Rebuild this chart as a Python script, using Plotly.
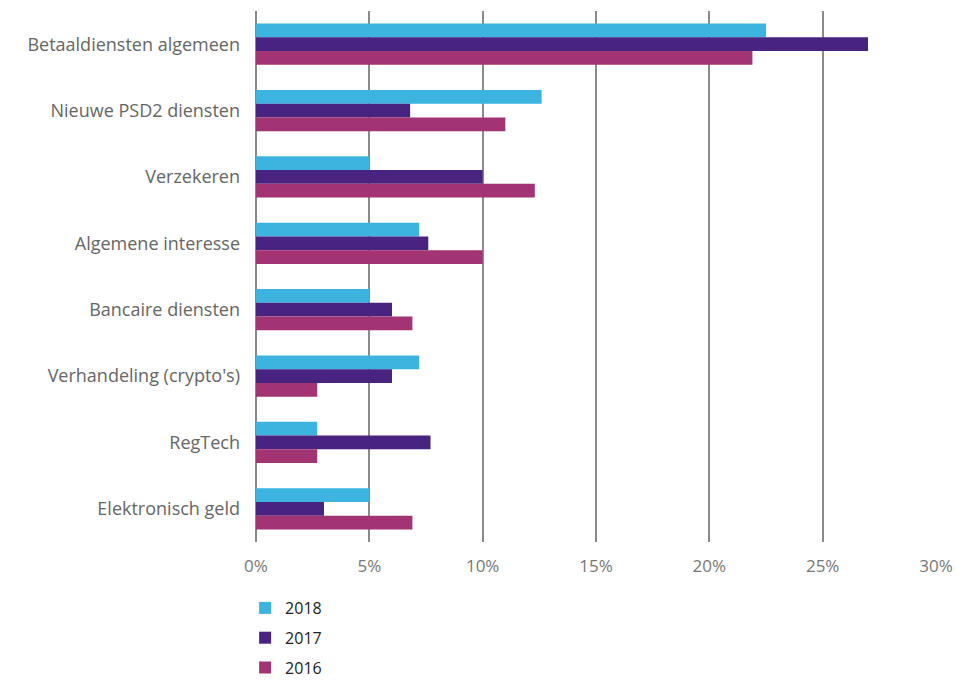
import plotly.graph_objects as go

categories = ["Betaaldiensten algemeen", "Nieuwe PSD2 diensten", "Verzekeren",
              "Algemene interesse", "Bancaire diensten", "Verhandeling (crypto's)",
              "RegTech", "Elektronisch geld"]
v2018 = [22.5, 12.6, 5.0, 7.2, 5.0, 7.2, 2.7, 5.0]
v2017 = [27.0, 6.8, 10.0, 7.6, 6.0, 6.0, 7.7, 3.0]
v2016 = [21.9, 11.0, 12.3, 10.0, 6.9, 2.7, 2.7, 6.9]
series_names = ["2018", "2017", "2016"]
colors = ["#3DB3E0", "#48237F", "#A33474"]
tick_vals = [0, 5, 10, 15, 20, 25, 30]
tick_text = ["0%", "5%", "10%", "15%", "20%", "25%", "30%"]

fig = go.Figure()
for name, vals, col in zip(series_names, [v2018, v2017, v2016], colors):
    fig.add_trace(go.Bar(
        y=categories, x=vals, name=name, orientation="h",
        marker=dict(color=col, line=dict(width=0)),
        legendgroup=name,
    ))

fig.update_layout(
    width=957, height=685,
    margin=dict(l=256, r=21, t=11, b=143, autoexpand=False),
    paper_bgcolor="white", plot_bgcolor="white",
    barmode="group", bargap=0.38, bargroupgap=0,
    font=dict(family="Open Sans", size=17, color="#666666"),
    xaxis=dict(range=[0, 30], tickvals=tick_vals, ticktext=tick_text,
               showgrid=True, gridcolor="#8a8a8a", gridwidth=1.5,
               zeroline=True, zerolinecolor="#8a8a8a", zerolinewidth=1.5,
               showline=False, ticks="", fixedrange=True, automargin=False,
               ticklabelstandoff=12,
               tickfont=dict(size=17, color="#777777")),
    yaxis=dict(autorange="reversed", showgrid=False, ticks="", automargin=False,
               ticklabelstandoff=15, fixedrange=True,
               tickfont=dict(size=18, color="#666666")),
    legend=dict(orientation="v", x=-0.016, xanchor="left",
                yref="container", y=0, yanchor="bottom",
                font=dict(size=16, color="#222222"), traceorder="grouped",
                tracegroupgap=6, itemwidth=30, bgcolor="rgba(0,0,0,0)"),
)

fig.write_html("out.html", config={"displayModeBar": False},
               post_script="document.body.style.margin='0';document.body.style.overflow='hidden';")
